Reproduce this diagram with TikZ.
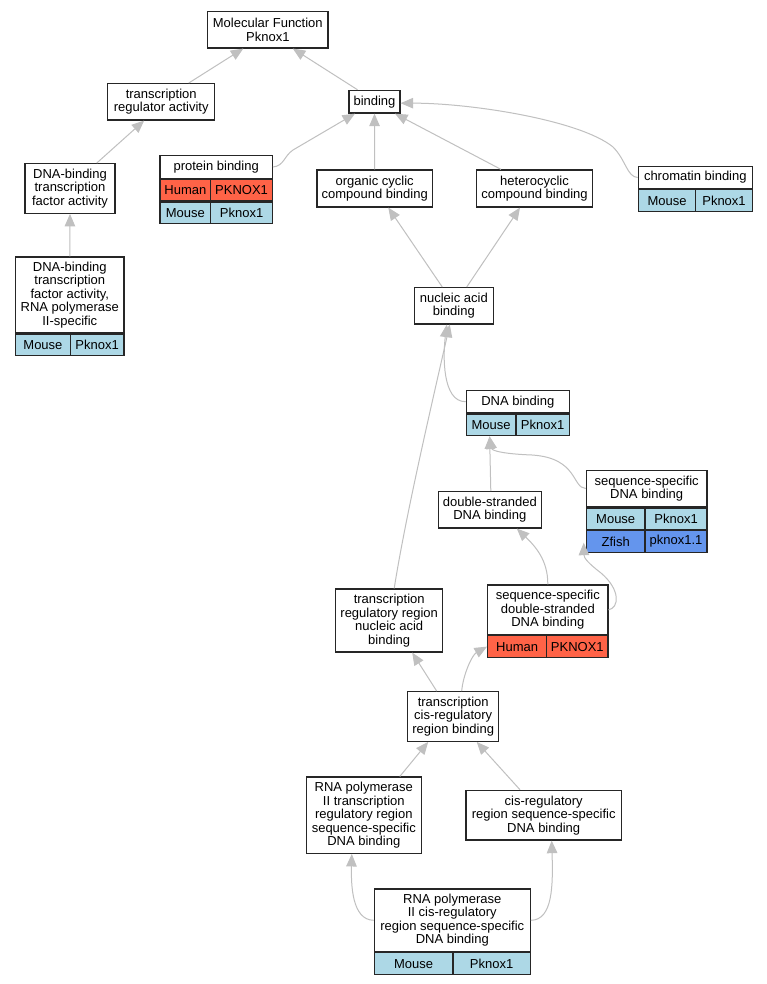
\documentclass[tikz,border=0pt]{standalone}
\usepackage{fontspec}
\setmainfont{Liberation Sans}
\usetikzlibrary{arrows.meta}
\definecolor{human}{RGB}{255,99,71}
\definecolor{mouse}{RGB}{173,216,230}
\definecolor{zfish}{RGB}{100,149,237}
\definecolor{edgegray}{RGB}{192,192,192}
\begin{document}
\begin{tikzpicture}[x=1pt,y=-1pt,
    font=\fontsize{13}{13.5}\selectfont,
    term/.style={draw=black!85,line width=1.2pt,fill=white,align=center,inner sep=0pt},
    cell/.style={draw=black!85,line width=1.2pt,inner sep=0pt,minimum height=21.5},
    isa/.style={draw=edgegray,line width=1pt,-{Triangle[length=12.5pt,width=10.5pt]}}]
    \path[fill=white] (0,0) rectangle (767,984);
    % terms
    \node[term,minimum width=120.3,minimum height=36.3] (mf) at (267.8,29.8) {Molecular Function\\Pknox1};
    \node[term,minimum width=107,minimum height=36.3] (trreg) at (161.2,101.8) {transcription\\regulator activity};
    \node[term,minimum width=51,minimum height=22.7] (binding) at (374.5,101.7) {binding};
    \node[term,minimum width=90,minimum height=49.6] (dbtf) at (70,188.5) {DNA-binding\\transcription\\factor activity};
    \node[term,minimum width=112.3,minimum height=22.6] (protbind) at (216.2,167) {protein binding};
    \node[cell,fill=human,minimum width=50.7,anchor=north west] (protbind-1l) at (protbind.south west) {Human};
    \node[cell,fill=human,minimum width=61.6,anchor=north east] (protbind-1r) at (protbind.south east) {PKNOX1};
    \node[cell,fill=mouse,minimum width=50.7,anchor=north west] (protbind-2l) at (protbind-1l.south west) {Mouse};
    \node[cell,fill=mouse,minimum width=61.6,anchor=north east] (protbind-2r) at (protbind-1r.south east) {Pknox1};
    \node[term,minimum width=115.3,minimum height=37] (orgcyc) at (374.7,188.5) {organic cyclic\\compound binding};
    \node[term,minimum width=115.6,minimum height=37] (hetcyc) at (534.5,188.5) {heterocyclic\\compound binding};
    \node[term,minimum width=114,minimum height=22.4] (chrombind) at (695.3,177.5) {chromatin binding};
    \node[cell,fill=mouse,minimum width=57.4,anchor=north west] (chrombind-1l) at (chrombind.south west) {Mouse};
    \node[cell,fill=mouse,minimum width=56.6,anchor=north east] (chrombind-1r) at (chrombind.south east) {Pknox1};
    \node[term,minimum width=79,minimum height=36.3] (nucbind) at (453.8,305.8) {nucleic acid\\binding};
    \node[term,minimum width=108.3,minimum height=76] (dbtfpol) at (69.8,295) {DNA-binding\\transcription\\factor activity,\\RNA polymerase\\II-specific};
    \node[cell,fill=mouse,minimum width=54.6,anchor=north west] (dbtfpol-1l) at (dbtfpol.south west) {Mouse};
    \node[cell,fill=mouse,minimum width=53.7,anchor=north east] (dbtfpol-1r) at (dbtfpol.south east) {Pknox1};
    \node[term,minimum width=103,minimum height=22.7] (dnabind) at (517.8,401.7) {DNA binding};
    \node[cell,fill=mouse,minimum width=49.7,anchor=north west] (dnabind-1l) at (dnabind.south west) {Mouse};
    \node[cell,fill=mouse,minimum width=53.3,anchor=north east] (dnabind-1r) at (dnabind.south east) {Pknox1};
    \node[term,minimum width=120.7,minimum height=36.4] (seqdna) at (646.7,488.5) {sequence-specific\\DNA binding};
    \node[cell,fill=mouse,minimum width=58.7,anchor=north west] (seqdna-1l) at (seqdna.south west) {Mouse};
    \node[cell,fill=mouse,minimum width=62,anchor=north east] (seqdna-1r) at (seqdna.south east) {Pknox1};
    \node[cell,fill=zfish,minimum width=58.7,anchor=north west] (seqdna-2l) at (seqdna-1l.south west) {Zfish};
    \node[cell,fill=zfish,minimum width=62,anchor=north east] (seqdna-2r) at (seqdna-1r.south east) {pknox1.1};
    \node[term,minimum width=103,minimum height=36.3] (dsdna) at (489.8,509.8) {double-stranded\\DNA binding};
    \node[term,minimum width=107,minimum height=63] (trrnuc) at (389.2,620.5) {transcription\\regulatory region\\nucleic acid\\binding};
    \node[term,minimum width=120.3,minimum height=49.7] (seqds) at (547.8,609.8) {sequence-specific\\double-stranded\\DNA binding};
    \node[cell,fill=human,minimum width=59,anchor=north west] (seqds-1l) at (seqds.south west) {Human};
    \node[cell,fill=human,minimum width=61.3,anchor=north east] (seqds-1r) at (seqds.south east) {PKNOX1};
    \node[term,minimum width=91,minimum height=49.6] (tcrbind) at (453.2,716.5) {transcription\\cis-regulatory\\region binding};
    \node[term,minimum width=115,minimum height=76.3] (poltrr) at (363.8,815.2) {RNA polymerase\\II transcription\\regulatory region\\sequence-specific\\DNA binding};
    \node[term,minimum width=155.3,minimum height=49.7] (cisreg) at (543.7,815.2) {cis-regulatory\\region sequence-specific\\DNA binding};
    \node[term,minimum width=156,minimum height=62.7] (polcis) at (452.3,920.3) {RNA polymerase\\II cis-regulatory\\region sequence-specific\\DNA binding};
    \node[cell,fill=mouse,minimum width=78.7,anchor=north west] (polcis-1l) at (polcis.south west) {Mouse};
    \node[cell,fill=mouse,minimum width=77.3,anchor=north east] (polcis-1r) at (polcis.south east) {Pknox1};
    % is-a edges
    \draw[isa] ([xshift=27.5]trreg.north) -- ([xshift=-24.5]mf.south);
    \draw[isa] ([xshift=-17]binding.north) -- ([xshift=25]mf.south);
    \draw[isa] ([xshift=26.7]dbtf.north) -- ([xshift=-17]trreg.south);
    \draw[isa] (dbtfpol.north) -- (dbtf.south);
    \draw[isa] (protbind.east) .. controls (284,166) and (284,156) .. (293,150) -- ([xshift=-19.5]binding.south);
    \draw[isa] (orgcyc.north) -- (binding.south);
    \draw[isa] ([xshift=-33.5]hetcyc.north) -- ([xshift=20.5]binding.south);
    \draw[isa] (chrombind.west) .. controls (627,177) and (626,160) .. (613,147) .. controls (580,120) and (470,103) .. ([yshift=-1.5]binding.east);
    \draw[isa] ([xshift=-11.5]nucbind.north) -- ([xshift=13.6]orgcyc.south);
    \draw[isa] ([xshift=12.9]nucbind.north) -- ([xshift=-14.5]hetcyc.south);
    \draw[isa] (dnabind.west) .. controls (442,402) and (443,355) .. ([xshift=-7]nucbind.south);
    \draw[isa] ([xshift=5]trrnuc.north) .. controls (405,520) and (428,420) .. ([xshift=-4]nucbind.south);
    \draw[isa] ([xshift=1]dsdna.north) -- ([xshift=-27]dnabind-1l.south east);
    \draw[isa] (seqdna.west) .. controls (572,488) and (578,458) .. (532,455) .. controls (505,454) and (492,451) .. ([xshift=-27]dnabind-1l.south east);
    \draw[isa] (seqds.north) .. controls (548,560) and (535,546) .. ([xshift=27]dsdna.south);
    \draw[isa] (seqds.east) .. controls (619,608) and (621,590) .. (601,573) .. controls (588,563) and (584,558) .. ([xshift=-2,yshift=10]seqdna-2l.south west);
    \draw[isa] ([xshift=-16.5]tcrbind.north) -- ([xshift=23]trrnuc.south);
    \draw[isa] ([xshift=8.5]tcrbind.north) .. controls (463,675) and (472,655) .. (seqds-1l.west);
    \draw[isa] ([xshift=36]poltrr.north) -- ([xshift=-25]tcrbind.south);
    \draw[isa] ([xshift=-23.7]cisreg.north) -- ([xshift=23.5]tcrbind.south);
    \draw[isa] (polcis.west) .. controls (352,920) and (351,885) .. ([xshift=-12]poltrr.south);
    \draw[isa] (polcis.east) .. controls (553,920) and (553,885) .. ([xshift=8]cisreg.south);
\end{tikzpicture}
\end{document}
